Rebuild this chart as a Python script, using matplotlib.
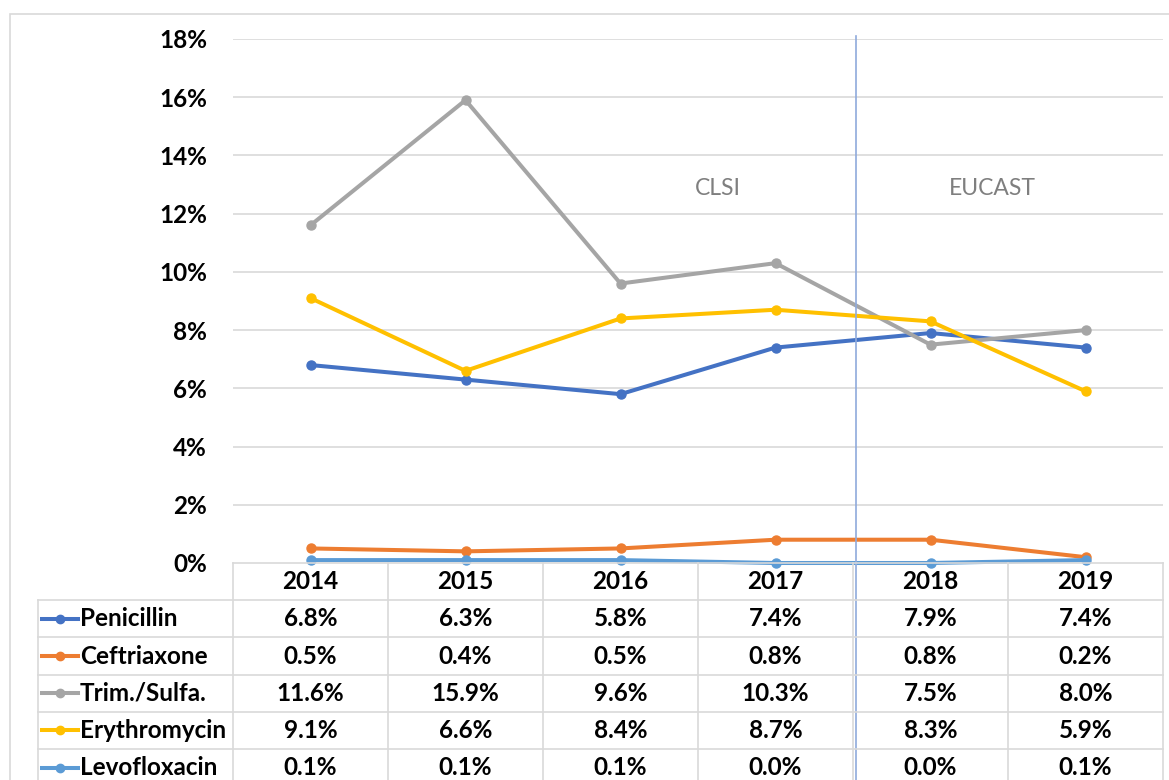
import matplotlib
matplotlib.use("Agg")
import matplotlib.pyplot as plt
from matplotlib.lines import Line2D
from matplotlib.patches import Rectangle

plt.rcParams['font.family'] = ['Lato', 'DejaVu Sans']

years = ["2014", "2015", "2016", "2017", "2018", "2019"]
drugs = ["Penicillin", "Ceftriaxone", "Trim./Sulfa.", "Erythromycin", "Levofloxacin"]
penicillin = [6.8, 6.3, 5.8, 7.4, 7.9, 7.4]
ceftriaxone = [0.5, 0.4, 0.5, 0.8, 0.8, 0.2]
trim_sulfa = [11.6, 15.9, 9.6, 10.3, 7.5, 8.0]
erythromycin = [9.1, 6.6, 8.4, 8.7, 8.3, 5.9]
levofloxacin = [0.1, 0.1, 0.1, 0.0, 0.0, 0.1]
series = [penicillin, ceftriaxone, trim_sulfa, erythromycin, levofloxacin]
colors = ["#4472C4", "#ED7D31", "#A5A5A5", "#FFC000", "#5B9BD5"]
yticks = [0, 2, 4, 6, 8, 10, 12, 14, 16, 18]

W, H = 1169, 780
fig = plt.figure(figsize=(W / 100, H / 100), dpi=100)
FS = 17.5
LW = 2.9
MS = 6.5

def fx(px):
    return px / W

def fy(py):
    return 1 - py / H

# outer frame
fig.patches.append(Rectangle((fx(10), fy(900)), fx(1300) - fx(10), fy(14) - fy(900),
                             transform=fig.transFigure, fill=False,
                             edgecolor="#D9D9D9", linewidth=1.2))

left_px, right_px = 233, 1163
top_px, zero_px = 39, 563
ax = fig.add_axes([fx(left_px), fy(zero_px), fx(right_px) - fx(left_px), fy(top_px) - fy(zero_px)])
x = list(range(len(years)))
ax.set_xlim(-0.5, len(years) - 0.5)
ax.set_ylim(0, 18)
for s in ax.spines.values():
    s.set_visible(False)
ax.set_yticks(yticks)
ax.set_yticklabels([f"{t}%" for t in yticks], fontsize=FS, fontweight="bold")
ax.tick_params(axis="y", length=0, pad=18.7)
ax.set_xticks([])
for t in yticks[1:]:
    ax.axhline(t, color="#D9D9D9", linewidth=1.2, zorder=0)

for vals, c in zip(series, colors):
    ax.plot(x, vals, color=c, linewidth=LW, marker="o", markersize=MS, zorder=3,
            clip_on=False)

ax.text(2.63, 12.85, "CLSI", fontsize=16.5, color="#7F7F7F", ha="center", va="center")
ax.text(4.40, 12.85, "EUCAST", fontsize=16.5, color="#7F7F7F", ha="center", va="center")

# table axes
row_h = 37.2
nrows = len(drugs) + 1
tab_bottom = zero_px + nrows * row_h
tax = fig.add_axes([fx(left_px), fy(tab_bottom), fx(right_px) - fx(left_px), fy(zero_px) - fy(tab_bottom)])
tax.set_xlim(-0.5, len(years) - 0.5)
tax.set_ylim(nrows, 0)
tax.axis("off")
col_w_px = (right_px - left_px) / len(years)
leg_left = -0.5 - (left_px - 38) / col_w_px
gc = "#D9D9D9"
# horizontal lines
tax.plot([-0.5, len(years) - 0.5], [0, 0], color=gc, lw=1.2, clip_on=False)
for r in range(1, nrows + 1):
    tax.plot([leg_left, len(years) - 0.5], [r, r], color=gc, lw=1.2, clip_on=False)
# vertical lines
for k in range(len(years) + 1):
    tax.plot([k - 0.5, k - 0.5], [0, nrows], color=gc, lw=1.2, clip_on=False)
tax.plot([leg_left, leg_left], [1, nrows], color=gc, lw=1.2, clip_on=False)

for j, yr in enumerate(years):
    tax.text(j, 0.5, yr, ha="center", va="center", fontsize=FS, fontweight="bold")
seg = 36 / col_w_px
for i, (name, vals, c) in enumerate(zip(drugs, series, colors)):
    r = i + 1.5
    x0 = leg_left + 4 / col_w_px
    tax.add_line(Line2D([x0, x0 + seg], [r, r], color=c, lw=LW, clip_on=False))
    tax.add_line(Line2D([x0 + seg / 2], [r], color=c, marker="o", markersize=MS - 0.5,
                        clip_on=False))
    tax.text(x0 + seg + 2 / col_w_px, r, name, ha="left", va="center", fontsize=FS,
             fontweight="bold", clip_on=False)
    for j, v in enumerate(vals):
        tax.text(j, r, f"{v:.1f}%", ha="center", va="center", fontsize=FS,
                 fontweight="bold")

# separator line between CLSI and EUCAST
ax.axvline(3.52, ymin=-(tab_bottom - zero_px) / (zero_px - top_px), ymax=1.005,
           color="#8FAADC", linewidth=1.2, clip_on=False, zorder=4)

fig.savefig("out.png", dpi=100)
